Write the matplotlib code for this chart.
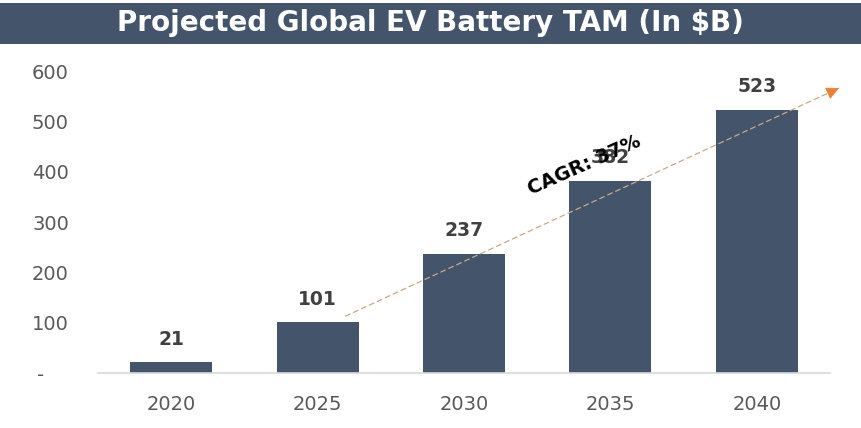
import matplotlib.pyplot as plt
from matplotlib.patches import Rectangle

years = ["2020", "2025", "2030", "2035", "2040"]
tam = [21, 101, 237, 382, 523]
y_ticks = [0, 100, 200, 300, 400, 500, 600]
y_labels = ["-    ", "100", "200", "300", "400", "500", "600"]
cagr_text = "CAGR: 37%"

bar_color = "#44546a"
grey = "#595959"

fig = plt.figure(figsize=(8.61, 4.28), dpi=100)
ax = fig.add_axes([0.114, 0.1285, 0.85, 0.7055])

# barra del titulo
fig.patches.append(Rectangle((0, 1 - 44 / 428), 1, 41 / 428, transform=fig.transFigure,
                             facecolor=bar_color, edgecolor="none"))
fig.text(0.5, 1 - 23 / 428, "Projected Global EV Battery TAM (In $B)", ha="center", va="center",
         color="white", fontsize=20, fontweight="bold")

x = range(len(years))
ax.bar(x, tam, width=0.56, color=bar_color)
for xi, v in zip(x, tam):
    ax.text(xi, v + 27, str(v), ha="center", va="bottom", fontsize=13.5,
            fontweight="bold", color="#404040")

ax.set_xlim(-0.5, 4.5)
ax.set_ylim(0, 600)
ax.set_xticks(list(x))
ax.set_xticklabels(years, fontsize=14, color=grey)
ax.set_yticks(y_ticks)
ax.set_yticklabels(y_labels, fontsize=14, color=grey)
ax.tick_params(length=0)
ax.tick_params(axis="x", pad=16)
ax.tick_params(axis="y", pad=21)
for s in ["top", "right", "left"]:
    ax.spines[s].set_visible(False)
ax.spines["bottom"].set_color("#d9d9d9")
ax.spines["bottom"].set_linewidth(1.2)

# flecha de CAGR: linea punteada + punta naranja
start = (1.19, 113)
end = (4.56, 566)
ax.annotate("", xy=end, xytext=start, annotation_clip=False,
            arrowprops=dict(arrowstyle="-", linestyle=(0, (4, 3)), color="#c9a98a", lw=0.9,
                            shrinkA=0, shrinkB=0))
tip_from = (end[0] - 0.05, end[1] - 0.05 * (end[1] - start[1]) / (end[0] - start[0]))
ax.annotate("", xy=end, xytext=tip_from, annotation_clip=False,
            arrowprops=dict(arrowstyle="-|>", color="#ed7d31", lw=0.5, mutation_scale=20,
                            shrinkA=0, shrinkB=0))
ax.text(2.82, 413, cagr_text, rotation=24, ha="center", va="center", fontsize=14,
        fontweight="bold", color="black", rotation_mode="anchor")

fig.savefig("out.png", dpi=100)
